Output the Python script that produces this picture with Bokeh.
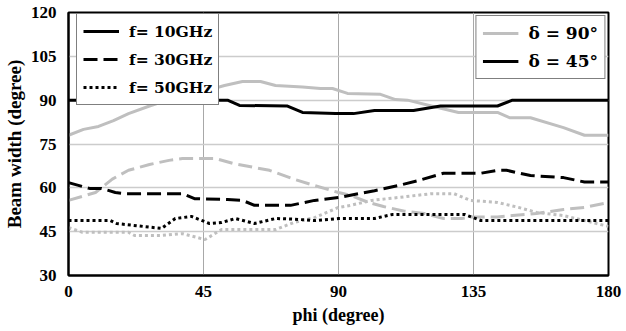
from bokeh.plotting import figure
from bokeh.models import Legend, LegendItem, FixedTicker, Range1d
from bokeh.embed import file_html
from bokeh.resources import INLINE

# ---- data ----
x_ticks = [0, 45, 90, 135, 180]
y_ticks = [30, 45, 60, 75, 90, 105, 120]

# f = 10 GHz
phi_10_d90 = [0, 5, 10, 15, 20, 27, 33, 40, 45, 52, 58, 64, 69, 78, 84, 88, 93, 104, 109, 113, 121, 130, 143, 147, 154, 165, 172, 180]
bw_10_d90 = [78, 80, 81, 83, 85.4, 88, 90, 92, 93, 95, 96.4, 96.4, 95, 94.5, 94, 94, 92.3, 92, 90.2, 90, 88, 85.8, 85.8, 84, 84, 80.6, 78, 78]
phi_10_d45 = [0, 20, 40, 50, 53, 57, 73, 78, 89, 95, 102, 115, 124, 143, 148, 160, 180]
bw_10_d45 = [90, 90, 90, 90, 90, 88.2, 88, 85.8, 85.4, 85.4, 86.5, 86.5, 88, 88, 90, 90, 90]

# f = 30 GHz
phi_30_d90 = [0, 9, 14.6, 20, 27, 33.5, 38, 49, 55, 67, 75, 82, 90, 94, 100, 105, 112, 118.6, 125, 131, 134, 143, 148, 156, 165, 172, 180]
bw_30_d90 = [55.7, 58.4, 63, 66, 68, 69.4, 70, 70, 68.3, 66, 63, 60.8, 58.4, 57.4, 55, 53.6, 52, 51.2, 49.5, 49.5, 50, 50, 50.5, 51.2, 52.6, 53.3, 55]
phi_30_d45 = [0, 7, 11, 15.6, 19, 38, 42, 53, 58, 62, 74, 82, 90, 102, 110, 116.6, 125, 137.5, 143, 146, 154, 165, 172, 180]
bw_30_d45 = [61.8, 59.8, 59.8, 58.4, 58, 58, 56.3, 56, 55.7, 54, 54, 55.7, 56.7, 59, 60.8, 62.5, 65, 65, 66, 66, 64.2, 63.5, 62, 62]

# f = 50 GHz
phi_50_d90 = [0, 4.6, 20, 22, 31, 38, 45.5, 51, 55, 69, 75, 82, 90, 94, 101, 110, 121, 128.5, 134, 143, 150, 156, 165, 172, 180]
bw_50_d90 = [46.4, 44.8, 44.8, 43.7, 43.7, 44.3, 42.3, 45.7, 45.7, 45.7, 48.1, 49.8, 53.3, 54, 55.7, 56.7, 58, 58, 55.7, 55, 53.3, 51.6, 50.5, 48.8, 46.8]
phi_50_d45 = [0, 14, 16, 31, 35.6, 41, 47, 51, 55.6, 62, 69, 75, 82, 90, 102, 108, 132, 137.5, 143, 180]
bw_50_d45 = [48.8, 48.8, 47.8, 46.1, 49.5, 50.2, 47.8, 48.1, 49.5, 47.8, 49.5, 49.3, 48.8, 49.5, 49.5, 50.9, 50.9, 48.8, 48.8, 48.8]

f_labels = ["f= 10GHz", "f= 30GHz", "f= 50GHz"]
d_labels = ["\u03b4 = 90\u00b0", "\u03b4 = 45\u00b0"]

# ---- styling ----
GRAY = "#bfbfbf"
BLACK = "#000000"
LW = 3
DASH = "14 6"
DOT = "3 3"
SERIF = "Liberation Serif"
LEG_FONT = "DejaVu Serif"

p = figure(width=626, height=331, output_backend="svg", toolbar_location=None,
           x_range=Range1d(0, 180), y_range=Range1d(30, 120),
           min_border_left=66, min_border_right=18, min_border_top=12, min_border_bottom=56)

p.background_fill_color = "white"
p.border_fill_color = "white"
p.outline_line_color = "black"
p.outline_line_width = 2

r_g10 = p.line(phi_10_d90, bw_10_d90, line_color=GRAY, line_width=LW)
r_b10 = p.line(phi_10_d45, bw_10_d45, line_color=BLACK, line_width=LW)
r_g30 = p.line(phi_30_d90, bw_30_d90, line_color=GRAY, line_width=LW, line_dash=DASH)
r_b30 = p.line(phi_30_d45, bw_30_d45, line_color=BLACK, line_width=LW, line_dash=DASH)
r_g50 = p.line(phi_50_d90, bw_50_d90, line_color=GRAY, line_width=LW, line_dash=DOT)
r_b50 = p.line(phi_50_d45, bw_50_d45, line_color=BLACK, line_width=LW, line_dash=DOT)

# axes
p.xaxis.ticker = FixedTicker(ticks=x_ticks)
p.yaxis.ticker = FixedTicker(ticks=y_ticks)
for ax in (p.xaxis, p.yaxis):
    ax.axis_line_color = "black"
    ax.axis_line_width = 2
    ax.major_tick_line_color = None
    ax.minor_tick_line_color = None
    ax.major_label_text_font = SERIF
    ax.major_label_text_font_style = "bold"
    ax.major_label_text_font_size = "17px"
    ax.major_label_text_color = "black"
    ax.axis_label_text_font = SERIF
    ax.axis_label_text_font_style = "bold"
    ax.axis_label_text_color = "black"
p.xaxis.axis_label_text_font_size = "18px"
p.yaxis.axis_label_text_font_size = "19px"
p.xaxis.axis_label = "phi (degree)"
p.yaxis.axis_label = "Beam width (degree)"
p.xaxis.major_label_standoff = 4
p.yaxis.major_label_standoff = 6
p.xaxis.axis_label_standoff = 5
p.yaxis.axis_label_standoff = 3

# grid
p.xgrid.ticker = FixedTicker(ticks=[45, 90, 135])
p.ygrid.ticker = FixedTicker(ticks=[45, 60, 75, 90, 105])
p.xgrid.grid_line_color = "#a8a8a8"
p.ygrid.grid_line_color = "#cccccc"
p.xgrid.grid_line_width = 1
p.ygrid.grid_line_width = 1.5

# legends
leg_f = Legend(items=[LegendItem(label=f_labels[0], renderers=[r_b10]),
                      LegendItem(label=f_labels[1], renderers=[r_b30]),
                      LegendItem(label=f_labels[2], renderers=[r_b50])],
               location=(8, 170))
leg_d = Legend(items=[LegendItem(label=d_labels[0], renderers=[r_g10]),
                      LegendItem(label=d_labels[1], renderers=[r_b10])],
               location="top_right")
for lg, fs in ((leg_f, "15.5px"), (leg_d, "17px")):
    lg.label_text_font = LEG_FONT
    lg.label_text_font_style = "bold"
    lg.label_text_font_size = fs
    lg.label_text_color = "black"
    lg.border_line_color = "black"
    lg.border_line_width = 1
    lg.background_fill_alpha = 1
    lg.glyph_width = 36
    lg.glyph_height = 22
    lg.label_height = 22
    lg.label_standoff = 10
    lg.spacing = 6
    lg.padding = 6
    lg.margin = 3
p.add_layout(leg_f)
p.add_layout(leg_d)

open("out.html", "w").write(file_html(p, INLINE))
